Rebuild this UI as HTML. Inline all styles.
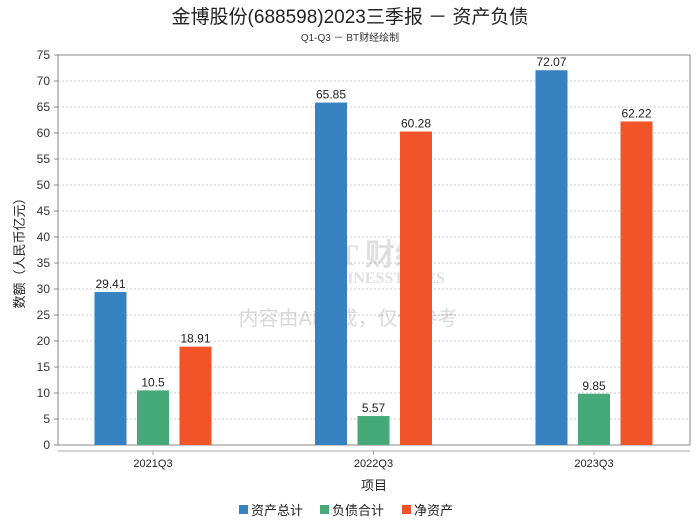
<!DOCTYPE html>
<html><head><meta charset="utf-8">
<style>
body{margin:0;background:#fff;width:700px;height:524px;overflow:hidden;font-family:"Liberation Sans","Noto Sans CJK SC",sans-serif}
</style></head><body>
<svg id="c" width="700" height="524" xmlns="http://www.w3.org/2000/svg">
<text x="350" y="23" text-anchor="middle" font-size="19" fill="#222" font-family="Liberation Sans,Noto Sans CJK SC,sans-serif">金博股份(688598)2023三季报 － 资产负债</text>
<text x="350" y="41" text-anchor="middle" font-size="10" fill="#333" font-family="Liberation Sans,Noto Sans CJK SC,sans-serif">Q1-Q3 － BT财经绘制</text>
<g id="grid"></g>
<rect x="58" y="55" width="632" height="390" fill="none" stroke="#888"/>
<line x1="58" y1="451" x2="690" y2="451" stroke="#aaa"/>
<g opacity="0.18">
<text x="318" y="265" font-size="30" font-weight="bold" fill="#555" font-family="Liberation Serif,serif">BT 财经</text>
<text x="316" y="283" font-size="16" font-weight="bold" fill="#555" font-family="Liberation Serif,serif">BUSINESSTIMES</text>
</g>
<text x="348" y="325" text-anchor="middle" font-size="20" fill="#000" opacity="0.15" font-family="Liberation Sans,Noto Sans CJK SC,sans-serif">内容由AI生成，仅供参考</text>
<g id="bars"></g>
<text x="24" y="250" transform="rotate(-90 24 250)" text-anchor="middle" font-size="13" fill="#222" font-family="Liberation Sans,Noto Sans CJK SC,sans-serif">数额（人民币亿元）</text>
<text x="374" y="490" text-anchor="middle" font-size="13" fill="#222" font-family="Liberation Sans,Noto Sans CJK SC,sans-serif">项目</text>
<g id="legend" font-size="13" font-family="Liberation Sans,Noto Sans CJK SC,sans-serif" fill="#222"></g>
</svg>
<script>
const categories=["2021Q3","2022Q3","2023Q3"];
const seriesNames=["资产总计","负债合计","净资产"];
const totalAssets=[29.41,65.85,72.07];
const totalLiabilities=[10.5,5.57,9.85];
const netAssets=[18.91,60.28,62.22];
const yTicks=[0,5,10,15,20,25,30,35,40,45,50,55,60,65,70,75];
const colors=["#3682c0","#46aa78","#f05428"];
const NS="http://www.w3.org/2000/svg";
const x0=58,x1=690,yTop=55,yBot=445,yMax=75;
const y=v=>yBot-(v/yMax)*(yBot-yTop);
const groupStart=153,groupStep=220.5;
const gx=i=>groupStart+groupStep*i;
function mk(t,a){const e=document.createElementNS(NS,t);for(const k in a)e.setAttribute(k,a[k]);return e;}
const grid=document.getElementById('grid');
yTicks.forEach(t=>{
 const l=mk('line',{x1:x0,x2:x1,y1:y(t),y2:y(t),stroke:'#ccc','stroke-dasharray':'2,2'});
 
 
 grid.appendChild(l);
 const tk=mk('line',{x1:x0-4,x2:x0,y1:y(t),y2:y(t),stroke:'#888'});
 
 
 grid.appendChild(tk);
 const tx=mk('text',{x:x0-8,y:y(t)+4,'text-anchor':'end','font-size':12,fill:'#333'});
 tx.textContent=t;
 
 
 grid.appendChild(tx);
});
const bars=document.getElementById('bars');
const series=[totalAssets,totalLiabilities,netAssets];
const bw=32,step=42.5;
categories.forEach((c,i)=>{
 const cx=gx(i);
 series.forEach((s,j)=>{
  const bx=cx-16-step+j*step;
  const r=mk('rect',{x:bx,y:y(s[i]),width:bw,height:yBot-y(s[i]),fill:colors[j]});
  
  
  bars.appendChild(r);
  const t=mk('text',{x:bx+bw/2,y:y(s[i])-4,'text-anchor':'middle','font-size':12,fill:'#222'});
  t.textContent=s[i];
  
  
  bars.appendChild(t);
 });
 const tk=mk('line',{x1:cx,x2:cx,y1:451,y2:455,stroke:'#aaa'});
 
 
 bars.appendChild(tk);
 const tl=mk('text',{x:cx,y:467,'text-anchor':'middle','font-size':11,fill:'#222'});
 tl.textContent=c;
 
 
 bars.appendChild(tl);
});
const lg=document.getElementById('legend');
const lx=[239,320,402];
seriesNames.forEach((n,j)=>{
 const r=mk('rect',{x:lx[j],y:505,width:9,height:9,fill:colors[j]});
 
 
 lg.appendChild(r);
 const t=mk('text',{x:lx[j]+12,y:515});
 t.textContent=n;
 
 
 lg.appendChild(t);
});
</script>
</body></html>
